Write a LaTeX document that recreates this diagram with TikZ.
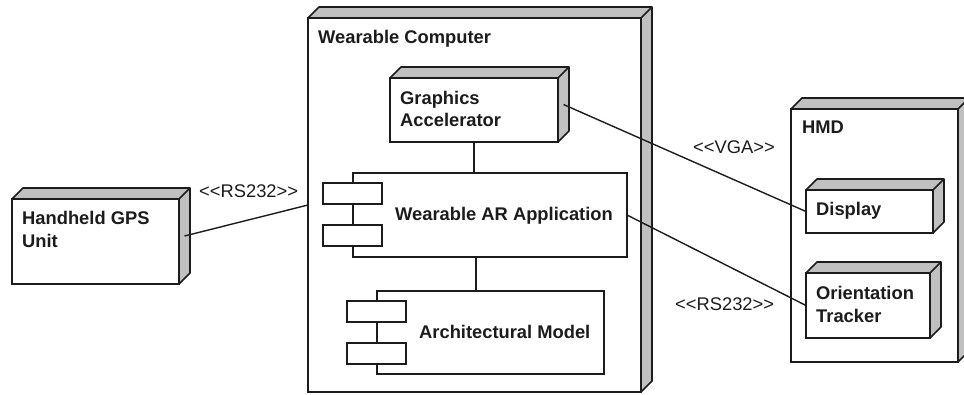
\documentclass[tikz,border=0pt]{standalone}
\usepackage{fontspec}
\setmainfont{Liberation Sans}[Ligatures=TeXOff]
\definecolor{facegray}{RGB}{192,192,192}
\definecolor{ink}{RGB}{28,28,28}

\tikzset{
  boxfront/.style={draw=ink, line width=1.6bp, fill=white, rectangle,
    inner sep=0pt, outer sep=0pt, anchor=north west},
  face/.style={draw=ink, fill=facegray, line width=1.6bp, line join=round},
  tab/.style={draw=ink, fill=white, line width=1.6bp},
  title/.style={anchor=base west, inner sep=0pt, align=left, text=ink,
    font=\bfseries\fontsize{18.4}{22.1}\selectfont},
  stereo/.style={anchor=base west, inner sep=0pt, text=ink,
    font=\fontsize{18.4}{22.1}\selectfont},
  link/.style={draw=ink, line width=1.4bp},
}

% top and right faces of a UML node box
\newcommand\solidify[1]{%
  \filldraw[face] (#1.north west) -- ++(11,-11)
    -- ([shift={(11,-11)}]#1.north east)
    -- ([shift={(11,-11)}]#1.south east)
    -- (#1.south east) -- (#1.north east) -- cycle;
  \draw[face] (#1.north east) -- ++(11,-11);}

% the two small tabs of a component symbol
\newcommand\comptabs[1]{%
  \filldraw[tab] ([shift={(-30,10)}]#1.north west) rectangle ([shift={(29,31)}]#1.north west);
  \filldraw[tab] ([shift={(-30,52)}]#1.north west) rectangle ([shift={(29,73)}]#1.north west);}

\newcommand\stereotype[1]{<<#1>>}

\begin{document}
\begin{tikzpicture}[x=1bp, y=-1bp]
  \useasboundingbox (0,0) rectangle (964,394);
  \clip (0,0) rectangle (964,394);

  % Wearable Computer
  \node[boxfront, minimum width=333bp, minimum height=374bp] (wc) at (308,18) {};
  \solidify{wc}
  \node[title] (wct) at (318,43) {Wearable Computer};

  % Graphics Accelerator (multi-line titles are placed by their last baseline)
  \node[boxfront, minimum width=168bp, minimum height=64bp] (ga) at (390,78) {};
  \solidify{ga}
  \node[title] (gat) at (400,126.5) {Graphics\\Accelerator};

  % Wearable AR Application component
  \node[boxfront, minimum width=274bp, minimum height=84bp] (ar) at (353,173) {};
  \comptabs{ar}
  \node[title] (art) at (395,220) {Wearable AR Application};

  % Architectural Model component
  \node[boxfront, minimum width=227bp, minimum height=83bp] (am) at (377,291) {};
  \comptabs{am}
  \node[title] (amt) at (419,338) {Architectural Model};

  % Handheld GPS Unit
  \node[boxfront, minimum width=167bp, minimum height=85bp] (gps) at (12,199) {};
  \solidify{gps}
  \node[title] (gpst) at (22,247) {Handheld GPS\\Unit};

  % HMD with its parts
  \node[boxfront, minimum width=167bp, minimum height=253bp] (hmd) at (791,109) {};
  \solidify{hmd}
  \node[title] (hmdt) at (802,133) {HMD};

  \node[boxfront, minimum width=127bp, minimum height=43bp] (disp) at (806,190) {};
  \solidify{disp}
  \node[title] (dispt) at (816,215) {Display};

  \node[boxfront, minimum width=124bp, minimum height=65bp] (ot) at (806,273) {};
  \solidify{ot}
  \node[title] (ott) at (816,322) {Orientation\\Tracker};

  % connectors
  \draw[link] ([shift={(5.5,-5.5)}]gps.east) -- (wc.west);
  \draw[link] (ga.south) -- (ga.south |- ar.north);
  \draw[link] ([xshift=2bp]ga.south |- ar.south) -- ([xshift=2bp]ga.south |- am.north);
  \draw[link] ([shift={(5.5,-5.5)}]ga.east) -- (disp.west);
  \draw[link] (ar.east) -- (ot.west);

  % connector stereotypes
  \node[stereo] (gpslab) at (199,197) {\stereotype{RS232}};
  \node[stereo] (vgalab) at (693,153) {\stereotype{VGA}};
  \node[stereo] (otlab) at (675,310) {\stereotype{RS232}};
\end{tikzpicture}
\end{document}
